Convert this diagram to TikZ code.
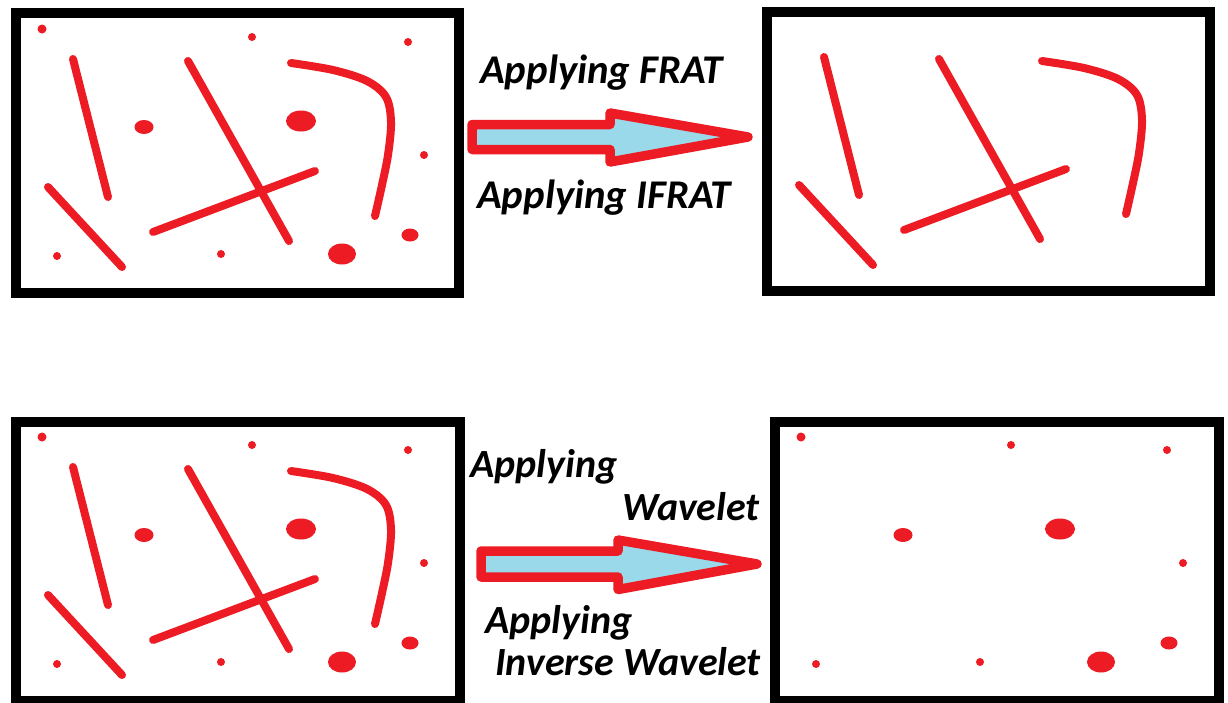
\documentclass[tikz,border=0pt]{standalone}
\usepackage{fontspec}
\setmainfont{Carlito}
\definecolor{paintred}{HTML}{ED1C24}
\definecolor{paintblue}{HTML}{99D9EA}

% Line features: straight strokes and the hooked curve
\newcommand{\featstrokes}{%
  \draw[stroke] (73,59) -- (108,197);
  \draw[stroke] (188,61) -- (289,241);
  \draw[stroke] (153,232) -- (315,171);
  \draw[stroke] (48,187) -- (122,267);
  \draw[stroke] plot[smooth,tension=0.55] coordinates
    {(291,63) (333,70) (367,81) (386,97) (391,122) (388,155) (382,185) (375,216)};
}
% Point features: small dots and blobs
\newcommand{\featspots}{%
  \fill[spot] (42,29) circle[radius=4.5pt];
  \fill[spot] (252,37) circle[radius=4pt];
  \fill[spot] (408,42) circle[radius=4pt];
  \fill[spot] (144,127) ellipse[x radius=9.5pt,y radius=7pt];
  \fill[spot] (301,121) ellipse[x radius=15pt,y radius=10.5pt];
  \fill[spot] (424,155) circle[radius=4pt];
  \fill[spot] (57,256) circle[radius=4pt];
  \fill[spot] (221,254) circle[radius=4pt];
  \fill[spot] (342,254) ellipse[x radius=14pt,y radius=10.5pt];
  \fill[spot] (410,235) ellipse[x radius=8.5pt,y radius=6.5pt];
}

\begin{document}
\begin{tikzpicture}[x=1pt,y=-1pt,
  panel/.style={draw=black,line width=10pt},
  stroke/.style={draw=paintred,line width=8pt,line cap=round,line join=round},
  spot/.style={fill=paintred},
  blockarrow/.style={draw=paintred,fill=paintblue,line width=9.5pt,line join=round},
  caption/.style={anchor=base west,inner sep=0pt,
    font=\fontsize{40.8}{46}\selectfont\bfseries\itshape},
  smallcaption/.style={caption,font=\fontsize{40}{46}\selectfont\bfseries\itshape}]
\useasboundingbox (0,0) rectangle (1228,702);
\fill[white] (0,0) rectangle (1228,702);

% Top row: FRAT
\draw[panel] (16,13) rectangle (458.5,292.5);
\featstrokes
\featspots
\draw[panel] (767,11.5) rectangle (1210,291);
\begin{scope}[shift={(751,-2)}]
  \featstrokes
\end{scope}

\draw[blockarrow] (472,124.5) -- (610,124.5) -- (610,113) -- (748,137)
  -- (610,162) -- (610,149.5) -- (472,149.5) -- cycle;
\node[caption] (frat) at (480,83) {Applying FRAT};
\node[caption] (ifrat) at (477,208) {Applying IFRAT};

% Bottom row: wavelet
\begin{scope}[shift={(0,408)}]
  \featstrokes
  \featspots
\end{scope}
\draw[panel] (16,421.5) rectangle (460,701);
\begin{scope}[shift={(759,408)}]
  \featspots
\end{scope}
\draw[panel] (775,421.5) rectangle (1218.5,701);

\draw[blockarrow] (481,551) -- (618,551) -- (618,540) -- (757,564)
  -- (618,589.5) -- (618,577) -- (481,577) -- cycle;
\node[smallcaption] (wav1) at (470,477) {Applying};
\node[smallcaption] (wav2) at (622,520) {Wavelet};
\node[smallcaption] (iwav1) at (485,633) {Applying};
\node[smallcaption] (iwav2) at (495,675) {Inverse Wavelet};
\end{tikzpicture}
\end{document}
